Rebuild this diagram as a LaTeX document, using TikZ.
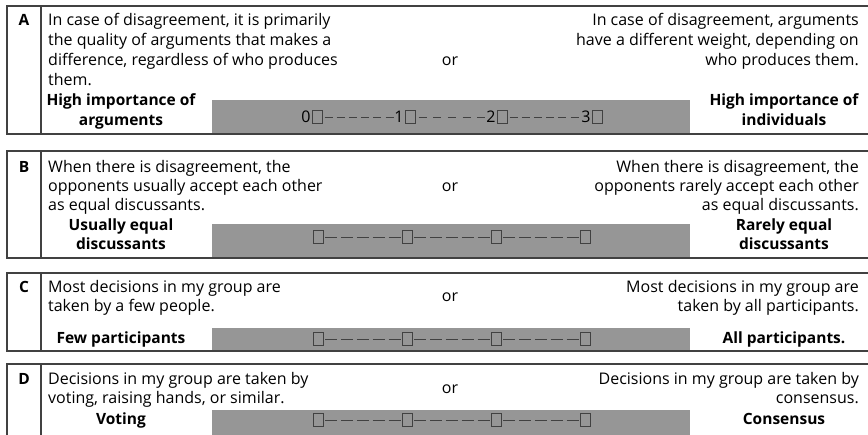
\documentclass[tikz,border=0pt]{standalone}
\usepackage{fontspec}
\setmainfont{Open Sans}
\usetikzlibrary{positioning}
\definecolor{rulegray}{RGB}{65,65,65}
\definecolor{bargray}{RGB}{150,150,150}
\tikzset{
  txt/.style={inner sep=0pt, font=\fontsize{16}{19}\selectfont},
  wide/.style={font=\fontsize{16}{20}\selectfont},
  lefttxt/.style={txt, anchor=north west, align=left},
  righttxt/.style={txt, anchor=north east, align=right},
  pole/.style={inner sep=0pt, align=center, font=\fontsize{15.5}{19}\selectfont\bfseries},
  tag/.style={inner sep=0pt, font=\fontsize{15.5}{19}\selectfont\bfseries},
  frame/.style={draw=rulegray, line width=1.5pt},
  tickbox/.style={draw=rulegray, line width=0.8pt, minimum width=10pt, minimum height=13pt, inner sep=0pt},
  scaleline/.style={draw=rulegray, line width=0.9pt}
}
\begin{document}
\begin{tikzpicture}[x=1pt,y=-1pt]
  \useasboundingbox (0,0) rectangle (868,435);

  % gray bars
  \fill[bargray] (212,100) rectangle (690,134);
  \fill[bargray] (212,224) rectangle (690,258);
  \fill[bargray] (212,328) rectangle (690,351);
  \fill[bargray] (212,410) rectangle (690,435);

  % frames
  \draw[frame] (868,6) -- (7,6) -- (7,134) -- (868,134);
  \draw[frame] (41,6) -- (41,134);
  \draw[frame] (868,151) -- (7,151) -- (7,258) -- (868,258);
  \draw[frame] (41,151) -- (41,258);
  \draw[frame] (868,273) -- (7,273) -- (7,351) -- (868,351);
  \draw[frame] (41,273) -- (41,351);
  \draw[frame] (868,364) -- (7,364) -- (7,435);
  \draw[frame] (41,364) -- (41,435);

  % A
  \node[tag, anchor=base] (tagA) at (24,25.3) {A};
  \node[lefttxt, wide] (leftA) at (48,13) {In case of disagreement, it is primarily\\the quality of arguments that makes a\\difference, regardless of who produces\\them.};
  \node[txt, anchor=base] (orA) at (450,65.3) {or};
  \node[righttxt, wide] (rightA) at (859,13) {In case of disagreement, arguments\\have a different weight, depending on\\who produces them.};
  \node[pole, anchor=north, font=\fontsize{15.5}{20}\selectfont\bfseries] (lowA) at (121,93) {High importance of\\arguments};
  \node[pole, anchor=north, font=\fontsize{15.5}{20}\selectfont\bfseries] (highA) at (784,93) {High importance of\\individuals};
  \foreach \i/\x in {0/317,1/410,2/502,3/597}
  {
  \node[tickbox] (a\i) at (\x,117) {};
  \node[txt, left=1pt of a\i] (na\i) {\i};
  }
  \foreach \p/\q/\o/\s in {a0/na1/4.2/10.1, a1/na2/6.6/11.3, a2/na3/4.2/10.1}
  {
  \draw[scaleline, dash pattern=on 8pt off \o pt, dash phase=\s pt] (\p.east) -- (\q.west);
  }

  % B
  \node[tag, anchor=base] (tagB) at (24,172.3) {B};
  \node[lefttxt] (leftB) at (48,160) {When there is disagreement, the\\opponents usually accept each other\\as equal discussants.};
  \node[txt, anchor=base] (orB) at (450,191.3) {or};
  \node[righttxt] (rightB) at (859,160) {When there is disagreement, the\\opponents rarely accept each other\\as equal discussants.};
  \node[pole, anchor=north] (lowB) at (121,219) {Usually equal\\discussants};
  \node[pole, anchor=north] (highB) at (784,219) {Rarely equal\\discussants};
  \foreach \i/\x in {0/318,1/407,2/496,3/585}
  {
  \node[tickbox] (b\i) at (\x,237) {};
  }
  \foreach \p/\q in {b0/b1, b1/b2, b2/b3}
  {
  \draw[scaleline, dash pattern=on 12pt off 3.8pt, dash phase=13.9pt] (\p.east) -- (\q.west);
  }

  % C
  \node[tag, anchor=base] (tagC) at (24,292.3) {C};
  \node[lefttxt] (leftC) at (48,280) {Most decisions in my group are\\taken by a few people.};
  \node[txt, anchor=base] (orC) at (450,301.8) {or};
  \node[righttxt] (rightC) at (859,280) {Most decisions in my group are\\taken by all participants.};
  \node[tag, anchor=base] (lowC) at (121,343.2) {Few participants};
  \node[tag, anchor=base] (highC) at (784,343.2) {All participants.};
  \foreach \i/\x in {0/318,1/407,2/496,3/585}
  {
  \node[tickbox] (c\i) at (\x,339) {};
  }
  \foreach \p/\q in {c0/c1, c1/c2, c2/c3}
  {
  \draw[scaleline, dash pattern=on 12pt off 3.8pt, dash phase=13.9pt] (\p.east) -- (\q.west);
  }

  % D
  \node[tag, anchor=base] (tagD) at (24,384.3) {D};
  \node[lefttxt] (leftD) at (48,372) {Decisions in my group are taken by\\voting, raising hands, or similar.};
  \node[txt, anchor=base] (orD) at (450,393.8) {or};
  \node[righttxt] (rightD) at (859,372) {Decisions in my group are taken by\\consensus.};
  \node[tag, anchor=base] (lowD) at (121,424.2) {Voting};
  \node[tag, anchor=base] (highD) at (784,424.2) {Consensus};
  \foreach \i/\x in {0/318,1/407,2/496,3/585}
  {
  \node[tickbox] (d\i) at (\x,420) {};
  }
  \foreach \p/\q in {d0/d1, d1/d2, d2/d3}
  {
  \draw[scaleline, dash pattern=on 12pt off 3.8pt, dash phase=13.9pt] (\p.east) -- (\q.west);
  }
\end{tikzpicture}
\end{document}
